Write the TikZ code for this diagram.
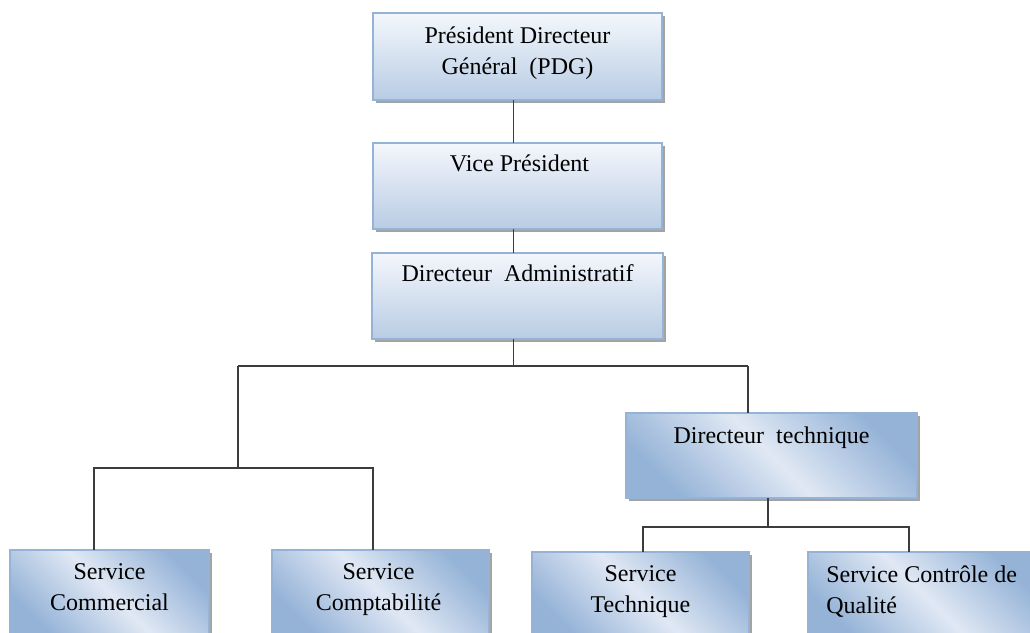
\documentclass[tikz,border=0pt]{standalone}
\usepackage{fontspec}
\setmainfont{Liberation Serif}
\usetikzlibrary{shadows}

\definecolor{boxline}{RGB}{149,179,215}
\definecolor{boxtop}{RGB}{244,247,252}
\definecolor{boxbot}{RGB}{184,204,228}
\definecolor{boxblue}{RGB}{149,179,215}
\definecolor{boxlite}{RGB}{224,232,244}
\definecolor{linkgray}{RGB}{60,60,60}

\tikzset{
	unit/.style={draw=boxline, line width=0.6pt, inner sep=0pt, outer sep=0pt,
		drop shadow={shadow xshift=1.3pt, shadow yshift=-1.3pt, fill=black!60, opacity=0.6}},
	headbox/.style={unit, top color=boxtop, bottom color=boxbot},
	servbox/.style={unit, left color=boxblue, right color=boxblue, middle color=boxlite, shading angle=135},
	caption/.style={anchor=north, inner sep=0pt, align=center, font=\fontsize{12}{15.5}\selectfont},
	link/.style={draw=linkgray, line width=0.9pt}
}

\begin{document}
\begin{tikzpicture}[x=0.5pt, y=-0.5pt]
		\useasboundingbox (0,0) rectangle (1030,633);
		\clip (0,0) rectangle (1030,633);
		
		% boxes
		\node[headbox, minimum width=144.5pt, minimum height=43.5pt] (pdg) at (517.5,56.5) {};
		\node[headbox, minimum width=144.5pt, minimum height=43pt] (vp) at (517.5,186) {};
		\node[headbox, minimum width=145.5pt, minimum height=43pt] (da) at (517.5,296) {};
		
		\node[servbox, minimum width=145.5pt, minimum height=42.5pt] (dt) at (771.5,455.5) {};
		
		\node[servbox, minimum width=99.5pt, minimum height=43pt] (sc) at (109.5,593) {};
		\node[servbox, minimum width=108.5pt, minimum height=43pt] (scp) at (380.5,593) {};
		\node[servbox, minimum width=108.5pt, minimum height=43pt] (st) at (640.5,595) {};
		\node[servbox, minimum width=116pt, minimum height=43pt] (scq) at (924,595) {};
		
		% texts
		\node[caption] (pdgtxt) at ([yshift=-6.5pt]pdg.north) {Président Directeur\\Général\ \ (PDG)};
		\node[caption] (vptxt) at ([yshift=-5.5pt, xshift=1pt]vp.north) {Vice Président};
		\node[caption] (datxt) at ([yshift=-5.5pt]da.north) {Directeur\ \ Administratif};
		\node[caption] (dttxt) at ([yshift=-6.5pt]dt.north) {Directeur\ \ technique};
		\node[caption] (sctxt) at ([yshift=-6.5pt]sc.north) {Service\\Commercial};
		\node[caption] (scptxt) at ([yshift=-6.5pt, xshift=-1pt]scp.north) {Service\\Comptabilité};
		\node[caption] (sttxt) at ([yshift=-6.5pt]st.north) {Service\\Technique};
		\node[caption, anchor=north west, align=left] (scqtxt) at ([xshift=9pt, yshift=-6.5pt]scq.north west) {Service Contrôle de\\Qualité};
		
		% links
		\coordinate (busL) at (238,366);
		\coordinate (busR) at (748,366);
		\coordinate (subL) at (238,468);
		\coordinate (subR) at (768,527);
		
		\draw[link] ([xshift=-2pt]pdg.south) -- ([xshift=-2pt]vp.north);
		\draw[link] ([xshift=-2pt]vp.south) -- ([xshift=-2pt]da.north);
		\draw[link] ([xshift=-2pt]da.south) -- ([xshift=-2pt]da.south |- busL);
		\draw[link] (busL) -- (busR);
		\draw[link] (busL) -- (subL);
		\draw[link] (busR) -- (busR |- dt.north);
		\draw[link] (subL) -| ([xshift=-7.75pt]sc.north);
		\draw[link] (subL) -| ([xshift=-3.75pt]scp.north);
		\draw[link] ([xshift=-1.75pt]dt.south) -- (subR);
		\draw[link] (subR) -| ([xshift=1.25pt]st.north);
		\draw[link] (subR) -| ([xshift=-7.5pt]scq.north);
	\end{tikzpicture}
\end{document}
